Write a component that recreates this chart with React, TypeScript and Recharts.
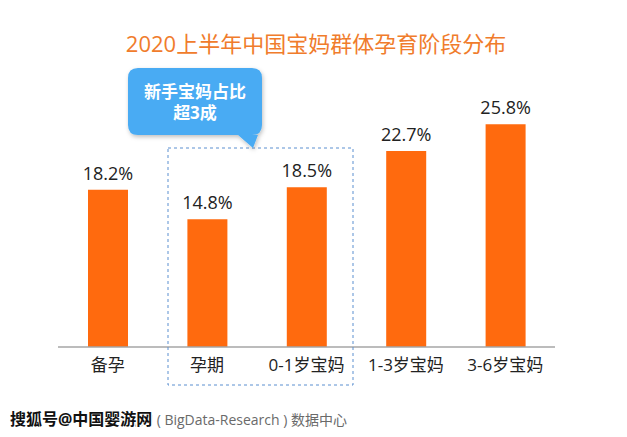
import { BarChart, Bar, XAxis, YAxis, LabelList } from 'recharts'

const categories = ['备孕', '孕期', '0-1岁宝妈', '1-3岁宝妈', '3-6岁宝妈']
const shares = [18.2, 14.8, 18.5, 22.7, 25.8]

const TITLE = '2020上半年中国宝妈群体孕育阶段分布'
const CALLOUT = ['新手宝妈占比', '超3成']
const SOURCE = '比达咨询 ( BigData-Research ) 数据中心'
const WATERMARK = '搜狐号@中国婴游网'

const FONT = "'Open Sans', 'Noto Sans CJK SC', sans-serif"

const data = categories.map((name, i) => ({ name, value: shares[i] }))

export default function App() {
  return (
    <div style={{ position: 'absolute', left: 0, top: 0, width: 627, height: 437, background: '#fff', fontFamily: FONT }}>
      <BarChart
        width={627}
        height={437}
        data={data}
        margin={{ top: 88, right: 72, left: 58, bottom: 50 }}
        barSize={40}
      >
        <YAxis hide domain={[0, 30]} />
        <XAxis
          dataKey="name"
          height={40}
          tickLine={false}
          axisLine={{ stroke: '#a6a6a6', strokeWidth: 1.5 }}
          tick={{ fill: '#222', fontSize: 17, fontFamily: FONT }}
          tickMargin={6}
          interval={0}
        />
        <Bar dataKey="value" fill="#ff6a0e" isAnimationActive={false}>
          <LabelList
            dataKey="value"
            position="top"
            offset={10}
            formatter={(v: number) => `${v.toFixed(1)}%`}
            style={{ fill: '#222', fontSize: 18, fontFamily: FONT }}
          />
        </Bar>
      </BarChart>

      {/* annotation overlay: title, callout, dashed box, source */}
      <svg width={627} height={437} style={{ position: 'absolute', left: 0, top: 0, pointerEvents: 'none' }}>
        <defs>
          <filter id="sh" x="-10%" y="-10%" width="130%" height="140%">
            <feDropShadow dx="1" dy="2" stdDeviation="2" floodColor="#000" floodOpacity="0.25" />
          </filter>
        </defs>
        <text x={316} y={52} textAnchor="middle" fill="#f07c2c" fontSize={22} fontFamily={FONT}>
          {TITLE}
        </text>

        <rect x={168} y={148} width={185} height={237} fill="none" stroke="#5b8fd0" strokeDasharray="3 3" strokeWidth={1} />

        <path
          d="M138,68 H252 Q262,68 262,78 V125 Q262,135 252,135 H258 L253,148 L238,135 H138 Q128,135 128,125 V78 Q128,68 138,68 Z"
          fill="#4aabf3"
          filter="url(#sh)"
        />
        <text x={195} y={98} textAnchor="middle" fill="#fff" fontSize={17} fontWeight="bold" fontFamily={FONT}>
          {CALLOUT[0]}
        </text>
        <text x={195} y={119} textAnchor="middle" fill="#fff" fontSize={17} fontWeight="bold" fontFamily={FONT}>
          {CALLOUT[1]}
        </text>

        <text x={97} y={425} fill="#6a6a6a" fontSize={14} fontFamily={FONT}>
          {SOURCE}
        </text>
        <text
          x={10}
          y={425}
          fill="#111"
          stroke="#fff"
          strokeWidth={3}
          paintOrder="stroke"
          fontSize={16}
          fontWeight="bold"
          fontFamily={FONT}
        >
          {WATERMARK}
        </text>
      </svg>
    </div>
  )
}
